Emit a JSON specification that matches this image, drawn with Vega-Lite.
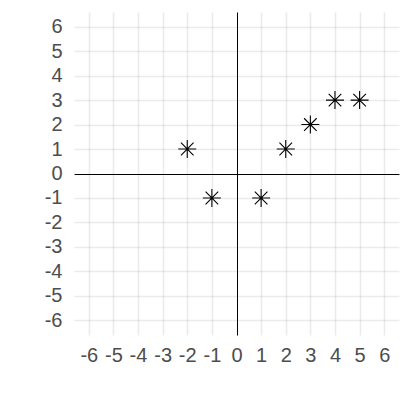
{
  "$schema": "https://vega.github.io/schema/vega-lite/v6.json",
  "width": 325,
  "height": 323,
  "autosize": {"type": "none"},
  "padding": {"left": 74, "top": 12, "right": 13, "bottom": 77},
  "background": "white",
  "config": {"view": {"stroke": null}},
  "data": {
    "values": [
      {"x": -2, "y": 1},
      {"x": -1, "y": -1},
      {"x": 1, "y": -1},
      {"x": 2, "y": 1},
      {"x": 3, "y": 2},
      {"x": 4, "y": 3},
      {"x": 5, "y": 3}
    ]
  },
  "mark": {
    "type": "point",
    "shape": "M-1,0L1,0M0,-1L0,1M-0.7,-0.7L0.7,0.7M-0.7,0.7L0.7,-0.7",
    "size": 324,
    "color": "black",
    "strokeWidth": 1.1,
    "opacity": 1,
    "filled": false
  },
  "encoding": {
    "x": {
      "field": "x", "type": "quantitative",
      "scale": {"domain": [-6.6, 6.6], "nice": false, "zero": false},
      "axis": {
        "title": null, "domain": false, "ticks": false, "grid": true,
        "values": [-6, -5, -4, -3, -2, -1, 0, 1, 2, 3, 4, 5, 6],
        "gridColor": {"condition": {"test": "datum.value === 0", "value": "black"}, "value": "rgba(0,0,0,0.078)"},
        "gridWidth": {"condition": {"test": "datum.value === 0", "value": 1}, "value": 1.6},
        "labelExpr": "toString(datum.value)",
        "labelFont": "Liberation Sans", "labelFontSize": 20, "labelColor": "#4D4D4D",
        "labelOverlap": false, "labelFlush": false, "labelPadding": 10
      }
    },
    "y": {
      "field": "y", "type": "quantitative",
      "scale": {"domain": [-6.6, 6.6], "nice": false, "zero": false},
      "axis": {
        "title": null, "domain": false, "ticks": false, "grid": true,
        "values": [-6, -5, -4, -3, -2, -1, 0, 1, 2, 3, 4, 5, 6],
        "gridColor": {"condition": {"test": "datum.value === 0", "value": "black"}, "value": "rgba(0,0,0,0.078)"},
        "gridWidth": {"condition": {"test": "datum.value === 0", "value": 1}, "value": 1.6},
        "labelExpr": "toString(datum.value)",
        "labelFont": "Liberation Sans", "labelFontSize": 20, "labelColor": "#4D4D4D",
        "labelOverlap": false, "labelFlush": false, "labelPadding": 12
      }
    }
  }
}
